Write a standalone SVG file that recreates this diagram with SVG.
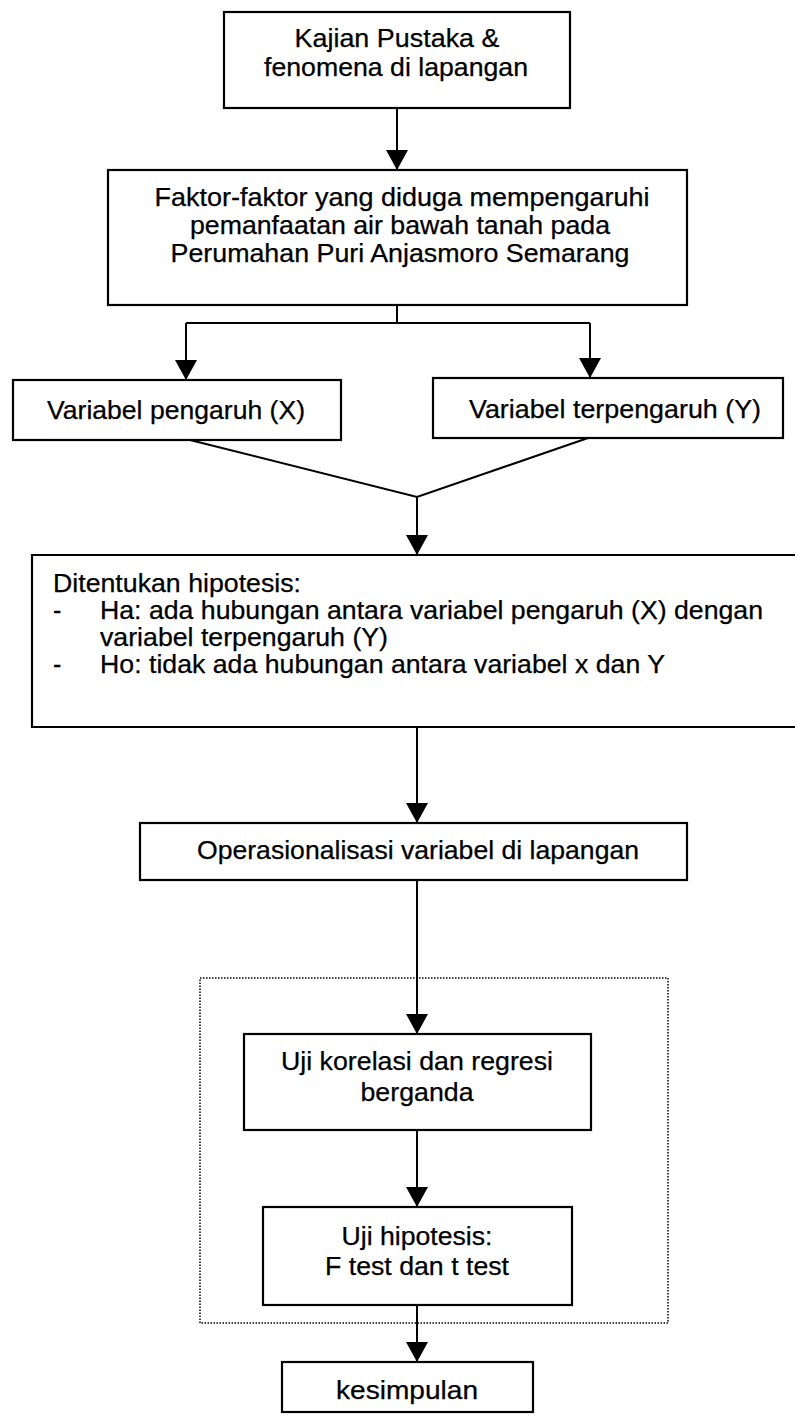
<svg xmlns="http://www.w3.org/2000/svg" width="795" height="1417" viewBox="0 0 795 1417">
<defs>
<style>
.box{fill:#fff;stroke:#000;stroke-width:2.2}
.dot{fill:none;stroke:#000;stroke-width:1.5;stroke-dasharray:1.5 1.5}
.ln{fill:none;stroke:#000;stroke-width:2}
text{font-family:"Liberation Sans",Arial,sans-serif;font-size:25px;fill:#000;stroke:#000;stroke-width:0.25}
.c{text-anchor:middle}
</style>
<marker id="ah" viewBox="0 -11 20 22" refX="20" refY="0" markerWidth="20" markerHeight="22" markerUnits="userSpaceOnUse" orient="auto">
<path d="M0,-11 L20,0 L0,11 z" fill="#000"/>
</marker>
</defs>
<rect x="0" y="0" width="795" height="1417" fill="#fff"/>

<g id="group-uji">
<rect x="200" y="978" width="468" height="345" class="dot"/>
</g>

<g id="connectors">
<line class="ln" x1="397" y1="108" x2="397" y2="170" marker-end="url(#ah)"/>
<polyline class="ln" points="397,305 397,323"/>
<polyline class="ln" points="186,323 590,323"/>
<line class="ln" x1="186" y1="323" x2="186" y2="380" marker-end="url(#ah)"/>
<line class="ln" x1="590" y1="323" x2="590" y2="378" marker-end="url(#ah)"/>
<polyline class="ln" points="190,440 417,497 588,438"/>
<line class="ln" x1="417" y1="497" x2="417" y2="555" marker-end="url(#ah)"/>
<line class="ln" x1="417" y1="727" x2="417" y2="823" marker-end="url(#ah)"/>
<line class="ln" x1="417" y1="880" x2="417" y2="1034" marker-end="url(#ah)"/>
<line class="ln" x1="417" y1="1130" x2="417" y2="1207" marker-end="url(#ah)"/>
<line class="ln" x1="417" y1="1305" x2="417" y2="1362" marker-end="url(#ah)"/>
</g>

<g id="kajian">
<rect class="box" x="224" y="12" width="346" height="96"/>
<text class="c" x="397" y="47" textLength="205" lengthAdjust="spacingAndGlyphs">Kajian Pustaka &amp;</text>
<text class="c" x="396" y="76" textLength="264" lengthAdjust="spacingAndGlyphs">fenomena di lapangan</text>
</g>

<g id="faktor">
<rect class="box" x="108" y="170" width="579" height="135"/>
<text class="c" x="402" y="206" textLength="495" lengthAdjust="spacingAndGlyphs">Faktor-faktor yang diduga mempengaruhi</text>
<text class="c" x="400" y="234" textLength="420" lengthAdjust="spacingAndGlyphs">pemanfaatan air bawah tanah pada</text>
<text class="c" x="400" y="262" textLength="459" lengthAdjust="spacingAndGlyphs">Perumahan Puri Anjasmoro Semarang</text>
</g>

<g id="var-x">
<rect class="box" x="13" y="380" width="328" height="60"/>
<text class="c" x="176" y="419" textLength="258" lengthAdjust="spacingAndGlyphs">Variabel pengaruh (X)</text>
</g>

<g id="var-y">
<rect class="box" x="433" y="378" width="350" height="60"/>
<text class="c" x="615" y="418" textLength="292" lengthAdjust="spacingAndGlyphs">Variabel terpengaruh (Y)</text>
</g>

<g id="hipotesis">
<path class="box" d="M797,555 H32 V727 H797"/>
<text x="53" y="592" textLength="248" lengthAdjust="spacingAndGlyphs">Ditentukan hipotesis:</text>
<text x="53" y="619">-</text>
<text x="100" y="619" textLength="663" lengthAdjust="spacingAndGlyphs">Ha: ada hubungan antara variabel pengaruh (X) dengan</text>
<text x="100" y="646" textLength="288" lengthAdjust="spacingAndGlyphs">variabel terpengaruh (Y)</text>
<text x="53" y="673">-</text>
<text x="100" y="673" textLength="565" lengthAdjust="spacingAndGlyphs">Ho: tidak ada hubungan antara variabel x dan Y</text>
</g>

<g id="operasionalisasi">
<rect class="box" x="140" y="823" width="547" height="57"/>
<text class="c" x="418" y="859" textLength="442" lengthAdjust="spacingAndGlyphs">Operasionalisasi variabel di lapangan</text>
</g>

<g id="uji-korelasi">
<rect class="box" x="244" y="1034" width="347" height="96"/>
<text class="c" x="417" y="1070" textLength="272" lengthAdjust="spacingAndGlyphs">Uji korelasi dan regresi</text>
<text class="c" x="417" y="1101" textLength="113" lengthAdjust="spacingAndGlyphs">berganda</text>
</g>

<g id="uji-hipotesis">
<rect class="box" x="263" y="1207" width="309" height="98"/>
<text class="c" x="417" y="1245" textLength="151" lengthAdjust="spacingAndGlyphs">Uji hipotesis:</text>
<text class="c" x="417" y="1275" textLength="184" lengthAdjust="spacingAndGlyphs">F test dan t test</text>
</g>

<g id="kesimpulan">
<rect class="box" x="282" y="1362" width="251" height="50"/>
<text class="c" x="407" y="1399" textLength="142" lengthAdjust="spacingAndGlyphs">kesimpulan</text>
</g>
</svg>
